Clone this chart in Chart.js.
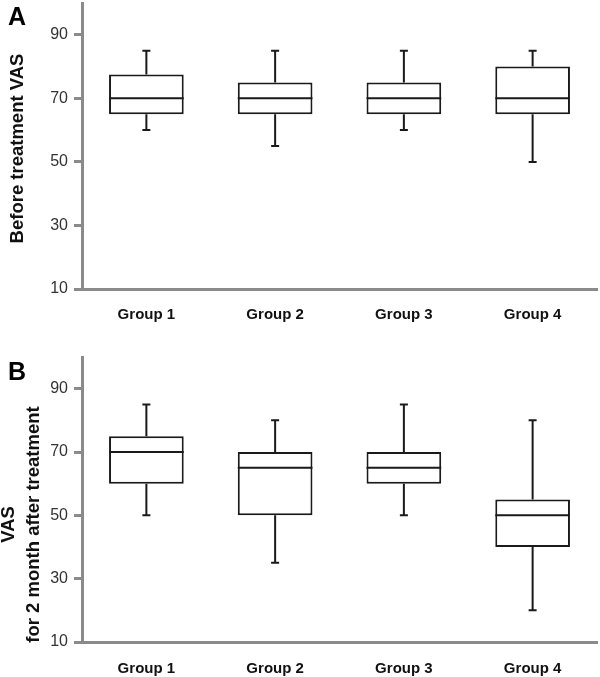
<!DOCTYPE html>
<html>
<head>
<meta charset="utf-8">
<script src="https://cdn.jsdelivr.net/npm/chart.js@4.4.1/dist/chart.umd.min.js"></script>
<style>
  html, body { margin: 0; padding: 0; background: #fff; }
  .panel { position: relative; width: 600px; }
  .letter { position: absolute; left: 8px; font: bold 25px "Liberation Sans", Arial, sans-serif; color: #000; }
</style>
</head>
<body>
<div class="panel" style="height:330px">
  <div class="letter" style="top:2px">A</div>
  <canvas id="chartA" width="600" height="330"></canvas>
</div>
<div class="panel" style="height:347px">
  <div class="letter" style="top:27px">B</div>
  <canvas id="chartB" width="600" height="347"></canvas>
</div>
<script>
// Data
const groups = ["Group 1", "Group 2", "Group 3", "Group 4"];
const yTicks = [10, 30, 50, 70, 90];

// Panel A: before treatment VAS
const beforeMin = [60, 55, 60, 50];
const beforeQ1 = [65, 65, 65, 65];
const beforeMedian = [70, 70, 70, 70];
const beforeQ3 = [77.5, 75, 75, 80];
const beforeMax = [85, 85, 85, 85];

// Panel B: VAS 2 months after treatment
const afterMin = [50, 35, 50, 20];
const afterQ1 = [60, 50, 60, 40];
const afterMedian = [70, 65, 65, 50];
const afterQ3 = [75, 70, 70, 55];
const afterMax = [85, 80, 85, 80];

const FONT = '"Liberation Sans", Arial, sans-serif';
const AXIS_GREY = "#8a8a8a";

// Whiskers + median lines drawn on top of the floating bars
const boxPlugin = {
  id: "boxExtras",
  afterDatasetsDraw(chart, args, opts) {
    const { ctx } = chart;
    const y = chart.scales.y;
    const meta = chart.getDatasetMeta(0);
    ctx.save();
    ctx.strokeStyle = "#1a1a1a";
    ctx.lineWidth = 2;
    meta.data.forEach((bar, i) => {
      const half = bar.width / 2;
      const yMin = y.getPixelForValue(opts.min[i]);
      const yQ1 = y.getPixelForValue(opts.q1[i]);
      const yMed = y.getPixelForValue(opts.median[i]);
      const yQ3 = y.getPixelForValue(opts.q3[i]);
      const yMax = y.getPixelForValue(opts.max[i]);
      ctx.beginPath();
      // whiskers
      ctx.moveTo(bar.x, yQ3); ctx.lineTo(bar.x, yMax);
      ctx.moveTo(bar.x, yQ1); ctx.lineTo(bar.x, yMin);
      // caps
      ctx.moveTo(bar.x - 4, yMax); ctx.lineTo(bar.x + 4, yMax);
      ctx.moveTo(bar.x - 4, yMin); ctx.lineTo(bar.x + 4, yMin);
      // median
      ctx.moveTo(bar.x - half, yMed); ctx.lineTo(bar.x + half, yMed);
      ctx.stroke();
    });
    ctx.restore();
  },
};

// Rotated y-axis title, centred on the chart area plus an offset
const yTitlePlugin = {
  id: "yTitle",
  afterDraw(chart, args, opts) {
    const { ctx, chartArea } = chart;
    ctx.save();
    ctx.fillStyle = "#111";
    ctx.font = "bold 18.5px " + FONT;
    ctx.textAlign = "center";
    ctx.textBaseline = "middle";
    const cy = (chartArea.top + chartArea.bottom) / 2 + (opts.offset || 0);
    opts.lines.forEach((line, k) => {
      ctx.save();
      ctx.translate(opts.x + k * opts.lineGap, cy);
      ctx.rotate(-Math.PI / 2);
      ctx.fillText(line, 0, 0);
      ctx.restore();
    });
    ctx.restore();
  },
};

function makeBoxChart(canvasId, stats, title, layout) {
  const ranges = stats.q1.map((v, i) => [v, stats.q3[i]]);
  return new Chart(document.getElementById(canvasId), {
    type: "bar",
    data: {
      labels: groups,
      datasets: [
        {
          data: ranges,
          backgroundColor: "#ffffff",
          borderColor: "#1a1a1a",
          borderWidth: 2,
          borderSkipped: false,
          categoryPercentage: 1,
          barPercentage: 0.58,
        },
      ],
    },
    options: {
      responsive: false,
      animation: false,
      layout: { padding: { top: layout.top, right: 3, left: 0, bottom: 0 } },
      plugins: {
        legend: { display: false },
        tooltip: { enabled: false },
        boxExtras: stats,
        yTitle: title,
      },
      scales: {
        x: {
          grid: { drawOnChartArea: false, drawTicks: false },
          border: { display: true, color: AXIS_GREY, width: 3 },
          ticks: {
            color: "#111",
            padding: layout.labelPad,
            font: { family: FONT, size: 15, weight: "bold" },
          },
          afterFit(scale) {
            scale.height = layout.xHeight;
            scale.paddingLeft = 0;
            scale.paddingRight = 0;
          },
        },
        y: {
          min: 10,
          max: 100,
          afterBuildTicks(scale) {
            scale.ticks = yTicks.map((v) => ({ value: v }));
          },
          grid: { drawOnChartArea: false, drawTicks: true, tickLength: 8, tickWidth: 3, color: AXIS_GREY },
          border: { display: true, color: AXIS_GREY, width: 3 },
          ticks: {
            color: "#333",
            padding: 6,
            font: { family: FONT, size: 16 },
          },
          afterFit(scale) {
            scale.width = 82;
            scale.paddingTop = 0;
            scale.paddingBottom = 0;
          },
        },
      },
    },
    plugins: [boxPlugin, yTitlePlugin],
  });
}

makeBoxChart(
  "chartA",
  { min: beforeMin, q1: beforeQ1, median: beforeMedian, q3: beforeQ3, max: beforeMax },
  { lines: ["Before treatment VAS"], x: 17.5, lineGap: 0, offset: 2.5 },
  { top: 3, xHeight: 41, labelPad: 17 }
);

makeBoxChart(
  "chartB",
  { min: afterMin, q1: afterQ1, median: afterMedian, q3: afterQ3, max: afterMax },
  { lines: ["VAS", "for 2 month after treatment"], x: 9, lineGap: 24.5, offset: 25 },
  { top: 27, xHeight: 35, labelPad: 18 }
);
</script>
</body>
</html>
